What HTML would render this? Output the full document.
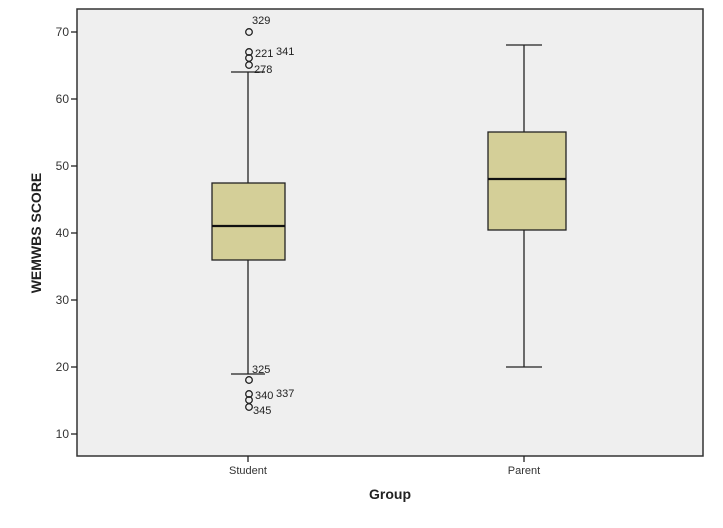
<!DOCTYPE html>
<html><head><style>body{margin:0;background:#fff}</style></head><body>
<svg width="723" height="523" xmlns="http://www.w3.org/2000/svg" font-family="Liberation Sans, sans-serif">
<rect x="77" y="9" width="626" height="447" fill="#efefef" stroke="#333" stroke-width="1.5"/>
<g stroke="#222" stroke-width="1.3">
<line x1="71" y1="32" x2="77" y2="32"/><line x1="71" y1="99" x2="77" y2="99"/><line x1="71" y1="166" x2="77" y2="166"/><line x1="71" y1="233" x2="77" y2="233"/><line x1="71" y1="300" x2="77" y2="300"/><line x1="71" y1="367" x2="77" y2="367"/><line x1="71" y1="434" x2="77" y2="434"/>
<line x1="248" y1="456" x2="248" y2="462"/><line x1="524" y1="456" x2="524" y2="462"/>
</g>
<g font-size="12" fill="#333" text-anchor="end">
<text x="69" y="36">70</text><text x="69" y="103">60</text><text x="69" y="170">50</text><text x="69" y="237">40</text><text x="69" y="304">30</text><text x="69" y="371">20</text><text x="69" y="438">10</text>
</g>
<g font-size="11" fill="#333" text-anchor="middle"><text x="248" y="474">Student</text><text x="524" y="474">Parent</text></g>
<text x="390" y="499" font-size="14" font-weight="bold" text-anchor="middle" fill="#222">Group</text>
<text transform="translate(41,233) rotate(-90)" font-size="14" font-weight="bold" text-anchor="middle" fill="#222">WEMWBS SCORE</text>
<g stroke="#222" stroke-width="1.3" fill="none">
<line x1="248" y1="72" x2="248" y2="183"/><line x1="248" y1="260" x2="248" y2="374"/>
<line x1="231" y1="72" x2="265" y2="72"/><line x1="231" y1="374" x2="265" y2="374"/>
<rect x="212" y="183" width="73" height="77" fill="#d4cf98"/>
<line x1="524" y1="45" x2="524" y2="132"/><line x1="524" y1="230" x2="524" y2="367"/>
<line x1="506" y1="45" x2="542" y2="45"/><line x1="506" y1="367" x2="542" y2="367"/>
<rect x="488" y="132" width="78" height="98" fill="#d4cf98"/>
<circle cx="249" cy="32" r="3.3"/><circle cx="249" cy="52" r="3.3"/><circle cx="249" cy="58" r="3.3"/><circle cx="249" cy="65" r="3.3"/>
<circle cx="249" cy="380" r="3.3"/><circle cx="249" cy="394" r="3.3"/><circle cx="249" cy="400" r="3.3"/><circle cx="249" cy="407" r="3.3"/>
</g>
<line x1="212" y1="226" x2="285" y2="226" stroke="#111" stroke-width="2.2"/>
<line x1="488" y1="179" x2="566" y2="179" stroke="#111" stroke-width="2.2"/>
<g font-size="11" fill="#222">
<text x="252" y="24">329</text><text x="255" y="57">221</text><text x="276" y="55">341</text><text x="254" y="73">278</text>
<text x="252" y="373">325</text><text x="255" y="399">340</text><text x="276" y="397">337</text><text x="253" y="414">345</text>
</g>
</svg>
</body></html>
